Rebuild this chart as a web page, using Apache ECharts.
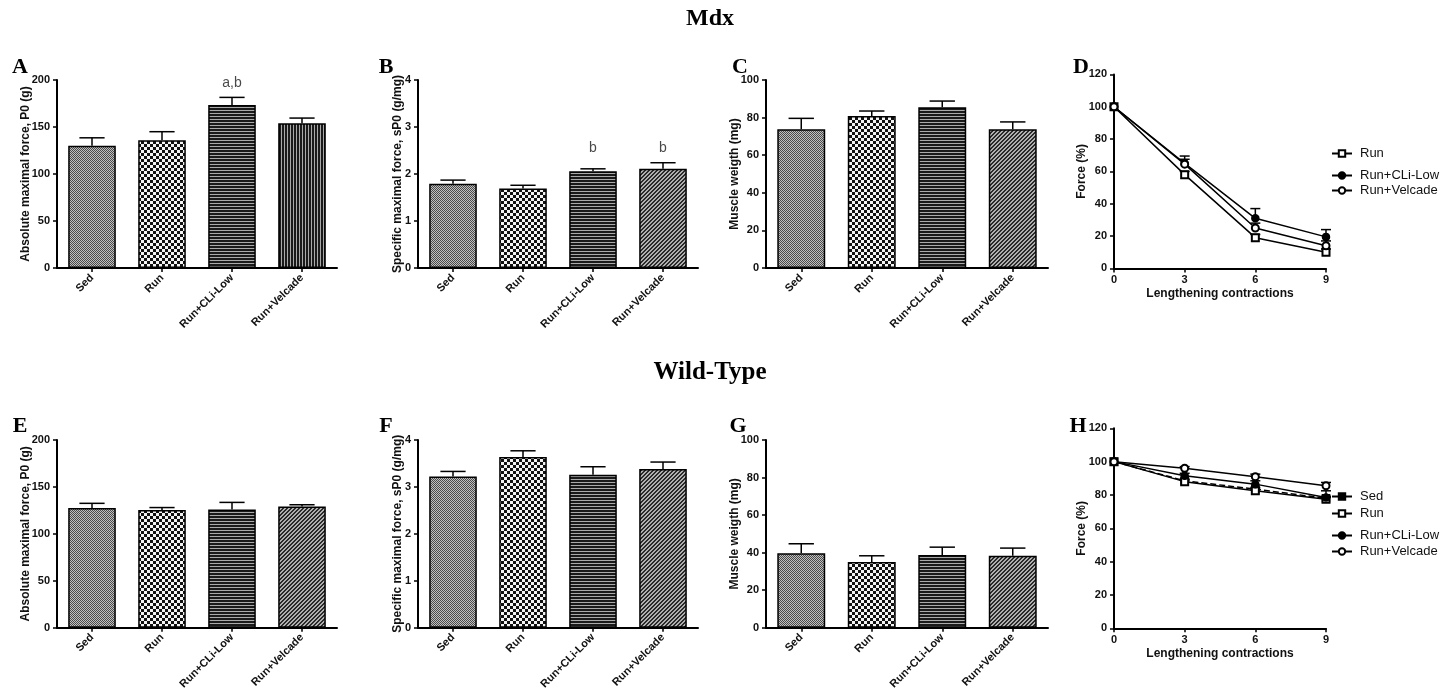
<!DOCTYPE html>
<html>
<head>
<meta charset="utf-8">
<script src="https://cdn.jsdelivr.net/npm/echarts@6/dist/echarts.min.js"></script>
<style>html,body{margin:0;padding:0;background:#fff}#c{width:1444px;height:692px}</style>
</head>
<body>
<div id="c"></div>
<script>
// ---------- DATA ----------
const categories = ['Sed', 'Run', 'Run+CLi-Low', 'Run+Velcade'];

const mdxAbsForce = [130, 136, 173.5, 154];
const mdxAbsForceErr = [8.5, 9, 8, 5.5];
const mdxSpecForce = [1.79, 1.69, 2.06, 2.11];
const mdxSpecForceErr = [0.08, 0.07, 0.05, 0.13];
const mdxWeight = [73.8, 80.9, 85.5, 73.8];
const mdxWeightErr = [5.8, 2.6, 3.3, 3.9];

const wtAbsForce = [127.5, 125.5, 126, 129];
const wtAbsForceErr = [5, 2.5, 7.5, 2];
const wtSpecForce = [3.22, 3.64, 3.26, 3.38];
const wtSpecForceErr = [0.11, 0.13, 0.17, 0.15];
const wtWeight = [39.7, 35, 38.7, 38.3];
const wtWeightErr = [5, 3.3, 4.2, 4.1];

const annotA = ['', '', 'a,b', ''];
const annotAY = 197;
const annotB = ['', '', 'b', 'b'];
const annotBY = 2.55;

const contractions = [0, 3, 6, 9];
const mdxRun = [100, 58, 19, 10];
const mdxRunErr = [0, 2, 2, 2];
const mdxCLi = [100, 65, 31, 19.5];
const mdxCLiErr = [0, 4.5, 6, 4.5];
const mdxVel = [100, 64.5, 25, 14];
const mdxVelErr = [0, 3, 3, 3];

const wtSed = [100, 88.5, 83.5, 78];
const wtSedErr = [0, 1, 1, 1];
const wtRun = [100, 88, 82.5, 77.5];
const wtRunErr = [0, 1, 1, 1];
const wtCLi = [100, 91.5, 86.5, 78.5];
const wtCLiErr = [0, 1.5, 2, 4];
const wtVel = [100, 96, 91, 85.5];
const wtVelErr = [0, 1, 1.5, 2];

// ---------- PATTERNS ----------
function makePattern(kind) {
  const c = document.createElement('canvas');
  let ctx;
  if (kind === 'dots') {
    c.width = 2; c.height = 2; ctx = c.getContext('2d');
    ctx.fillStyle = '#c0c0c0'; ctx.fillRect(0, 0, 2, 2);
    ctx.fillStyle = '#4a4a4a'; ctx.fillRect(0, 0, 1, 1); ctx.fillRect(1, 1, 1, 1);
  } else if (kind === 'check') {
    c.width = 6; c.height = 6; ctx = c.getContext('2d');
    ctx.fillStyle = '#f4f4f4'; ctx.fillRect(0, 0, 6, 6);
    ctx.fillStyle = '#111'; ctx.fillRect(0, 0, 3, 3); ctx.fillRect(3, 3, 3, 3);
  } else if (kind === 'hstripe') {
    c.width = 3; c.height = 3; ctx = c.getContext('2d');
    ctx.fillStyle = '#1a1a1a'; ctx.fillRect(0, 0, 3, 3);
    ctx.fillStyle = '#aaa'; ctx.fillRect(0, 2, 3, 1);
  } else if (kind === 'vstripe') {
    c.width = 3; c.height = 3; ctx = c.getContext('2d');
    ctx.fillStyle = '#1a1a1a'; ctx.fillRect(0, 0, 3, 3);
    ctx.fillStyle = '#aaa'; ctx.fillRect(2, 0, 1, 3);
  } else {
    c.width = 4; c.height = 4; ctx = c.getContext('2d');
    ctx.fillStyle = '#b0b0b0'; ctx.fillRect(0, 0, 4, 4);
    ctx.fillStyle = '#2a2a2a';
    for (let x = 0; x < 4; x++) for (let y = 0; y < 4; y++) {
      const s = (x + y) % 4; if (s === 2 || s === 3) ctx.fillRect(x, y, 1, 1);
    }
  }
  return { image: c, repeat: 'repeat' };
}
const patsA = ['dots', 'check', 'hstripe', 'vstripe'].map(makePattern);
const patsO = ['dots', 'check', 'hstripe', 'diag'].map(makePattern);

// ---------- LAYOUT ----------
const SANS = 'Liberation Sans, Arial, sans-serif';
const SERIF = 'Liberation Serif, Times New Roman, serif';
const grids = [
  { left: 57, top: 80, width: 280, height: 188 },
  { left: 418, top: 80, width: 280, height: 188 },
  { left: 766, top: 80, width: 282, height: 188 },
  { left: 1114, top: 74.4, width: 212, height: 194 },
  { left: 57, top: 440, width: 280, height: 188 },
  { left: 418, top: 440, width: 280, height: 188 },
  { left: 766, top: 440, width: 282, height: 188 },
  { left: 1114, top: 428.3, width: 212, height: 200 }
];

const axLine = { show: true, lineStyle: { color: '#000', width: 2 } };
const axTick = { show: true, length: 4, lineStyle: { color: '#000', width: 1.5 } };
const lblStyle = { color: '#111', fontFamily: SANS, fontWeight: 'bold', fontSize: 11 };

const xAxes = [], yAxes = [], series = [];

function barPanel(idx, means, errs, pats, yMax, yInt, yName, nameGap) {
  xAxes.push({
    type: 'category', gridIndex: idx, data: categories,
    axisLine: axLine, axisTick: Object.assign({ alignWithLabel: true }, axTick),
    axisLabel: Object.assign({ rotate: 45, margin: 8, interval: 0 }, lblStyle),
    splitLine: { show: false }
  });
  yAxes.push({
    type: 'value', gridIndex: idx, min: 0, max: yMax, interval: yInt,
    name: yName, nameLocation: 'middle', nameGap: nameGap, nameMoveOverlap: false,
    nameTextStyle: { color: '#111', fontFamily: SANS, fontWeight: 'bold', fontSize: 12 },
    axisLine: axLine, axisTick: axTick,
    axisLabel: Object.assign({ margin: 7 }, lblStyle),
    splitLine: { show: false }
  });
  series.push({
    type: 'bar', xAxisIndex: idx, yAxisIndex: idx, barWidth: '68%',
    data: means.map((m, j) => ({ value: m, itemStyle: { color: pats[j], borderColor: '#000', borderWidth: 1.5 } })),
    z: 2
  });
  series.push({
    type: 'custom', xAxisIndex: idx, yAxisIndex: idx, z: 3,
    data: means.map((m, j) => [j, m, m + errs[j]]),
    renderItem: function (params, api) {
      const x = api.value(0);
      const lo = api.coord([x, api.value(1)]);
      const hi = api.coord([x, api.value(2)]);
      const half = api.size([1, 0])[0] * 0.18;
      return {
        type: 'group', children: [
          { type: 'line', shape: { x1: lo[0], y1: lo[1], x2: hi[0], y2: hi[1] }, style: { stroke: '#000', lineWidth: 1.5 } },
          { type: 'line', shape: { x1: hi[0] - half, y1: hi[1], x2: hi[0] + half, y2: hi[1] }, style: { stroke: '#000', lineWidth: 1.5 } }
        ]
      };
    }
  });
}

function annot(idx, labels, yv) {
  series.push({
    type: 'scatter', xAxisIndex: idx, yAxisIndex: idx, symbolSize: 1, silent: true,
    itemStyle: { color: 'rgba(0,0,0,0)' },
    data: labels.map((t, j) => t ? {
      value: [j, yv],
      label: { show: true, formatter: t, position: 'inside', color: '#1a1a1a', fontFamily: SANS, fontSize: 14 }
    } : null).filter(Boolean)
  });
}

function linePanel(idx, yName, list) {
  xAxes.push({
    type: 'value', gridIndex: idx, min: 0, max: 9, interval: 3,
    name: 'Lengthening contractions', nameLocation: 'middle', nameGap: 19, nameMoveOverlap: false,
    nameTextStyle: { color: '#111', fontFamily: SANS, fontWeight: 'bold', fontSize: 12 },
    axisLine: axLine, axisTick: axTick,
    axisLabel: Object.assign({ margin: 6 }, lblStyle),
    splitLine: { show: false }
  });
  yAxes.push({
    type: 'value', gridIndex: idx, min: 0, max: 120, interval: 20,
    name: yName, nameLocation: 'middle', nameGap: 26, nameMoveOverlap: false,
    nameTextStyle: { color: '#111', fontFamily: SANS, fontWeight: 'bold', fontSize: 12 },
    axisLine: axLine, axisTick: axTick,
    axisLabel: Object.assign({ margin: 7 }, lblStyle),
    splitLine: { show: false }
  });
  list.forEach((s) => {
    series.push({
      type: 'line', name: s.name, xAxisIndex: idx, yAxisIndex: idx,
      data: contractions.map((x, j) => [x, s.v[j]]),
      symbol: s.sym, symbolSize: 7,
      lineStyle: { color: '#000', width: 1.5, type: s.dash ? 'dashed' : 'solid' },
      itemStyle: { color: '#000', borderColor: '#000', borderWidth: 1.5 },
      z: 4
    });
    series.push({
      type: 'custom', xAxisIndex: idx, yAxisIndex: idx, z: 3,
      data: contractions.map((x, j) => [x, s.v[j], s.v[j] + s.e[j]]).filter(d => d[2] > d[1]),
      renderItem: function (params, api) {
        const x = api.value(0);
        const lo = api.coord([x, api.value(1)]);
        const hi = api.coord([x, api.value(2)]);
        return {
          type: 'group', children: [
            { type: 'line', shape: { x1: lo[0], y1: lo[1], x2: hi[0], y2: hi[1] }, style: { stroke: '#000', lineWidth: 1.5 } },
            { type: 'line', shape: { x1: hi[0] - 5, y1: hi[1], x2: hi[0] + 5, y2: hi[1] }, style: { stroke: '#000', lineWidth: 1.5 } }
          ]
        };
      }
    });
  });
}

barPanel(0, mdxAbsForce, mdxAbsForceErr, patsA, 200, 50, 'Absolute maximal force, P0 (g)', 25);
barPanel(1, mdxSpecForce, mdxSpecForceErr, patsO, 4, 1, 'Specific maximal force, sP0 (g/mg)', 14);
barPanel(2, mdxWeight, mdxWeightErr, patsO, 100, 20, 'Muscle weigth (mg)', 25);
linePanel(3, 'Force (%)', [
  { name: 'Run', v: mdxRun, e: mdxRunErr, sym: 'emptyRect' },
  { name: 'Run+CLi-Low', v: mdxCLi, e: mdxCLiErr, sym: 'circle' },
  { name: 'Run+Velcade', v: mdxVel, e: mdxVelErr, sym: 'emptyCircle' }
]);
barPanel(4, wtAbsForce, wtAbsForceErr, patsO, 200, 50, 'Absolute maximal force, P0 (g)', 25);
barPanel(5, wtSpecForce, wtSpecForceErr, patsO, 4, 1, 'Specific maximal force, sP0 (g/mg)', 14);
barPanel(6, wtWeight, wtWeightErr, patsO, 100, 20, 'Muscle weigth (mg)', 25);
linePanel(7, 'Force (%)', [
  { name: 'Sed ', v: wtSed, e: wtSedErr, sym: 'rect', dash: true },
  { name: 'Run ', v: wtRun, e: wtRunErr, sym: 'emptyRect' },
  { name: 'Run+CLi-Low ', v: wtCLi, e: wtCLiErr, sym: 'circle' },
  { name: 'Run+Velcade ', v: wtVel, e: wtVelErr, sym: 'emptyCircle' }
]);
annot(0, annotA, annotAY);
annot(1, annotB, annotBY);

function leg(name, top) {
  return {
    data: [name], left: 1331, top: top, orient: 'vertical', itemWidth: 20, itemHeight: 8, itemGap: 0,
    selectedMode: false, padding: 0,
    textStyle: { color: '#111', fontFamily: SANS, fontSize: 13, padding: [0, 0, 0, 3] }
  };
}
const legends = [
  leg('Run', 147), leg('Run+CLi-Low', 169), leg('Run+Velcade', 184),
  leg('Sed ', 490), leg('Run ', 507), leg('Run+CLi-Low ', 529), leg('Run+Velcade ', 545)
];

function ttl(text, x, y, size) {
  return { text: text, left: x, top: y, textAlign: 'center', padding: 0,
    textStyle: { fontFamily: SERIF, fontWeight: 'bold', fontSize: size, color: '#000' } };
}
const titles = [
  ttl('Mdx', 710, 7, 24), ttl('Wild-Type', 710, 360, 25),
  ttl('A', 20, 56, 22), ttl('B', 386, 56, 22), ttl('C', 740, 56, 22), ttl('D', 1081, 56, 22),
  ttl('E', 20, 415, 22), ttl('F', 386, 415, 22), ttl('G', 738, 415, 22), ttl('H', 1078, 415, 22)
];

const chart = echarts.init(document.getElementById('c'), null, { renderer: 'canvas' });
chart.setOption({
  animation: false,
  backgroundColor: '#fff',
  title: titles,
  legend: legends,
  grid: grids,
  xAxis: xAxes,
  yAxis: yAxes,
  series: series
});
</script>
</body>
</html>
